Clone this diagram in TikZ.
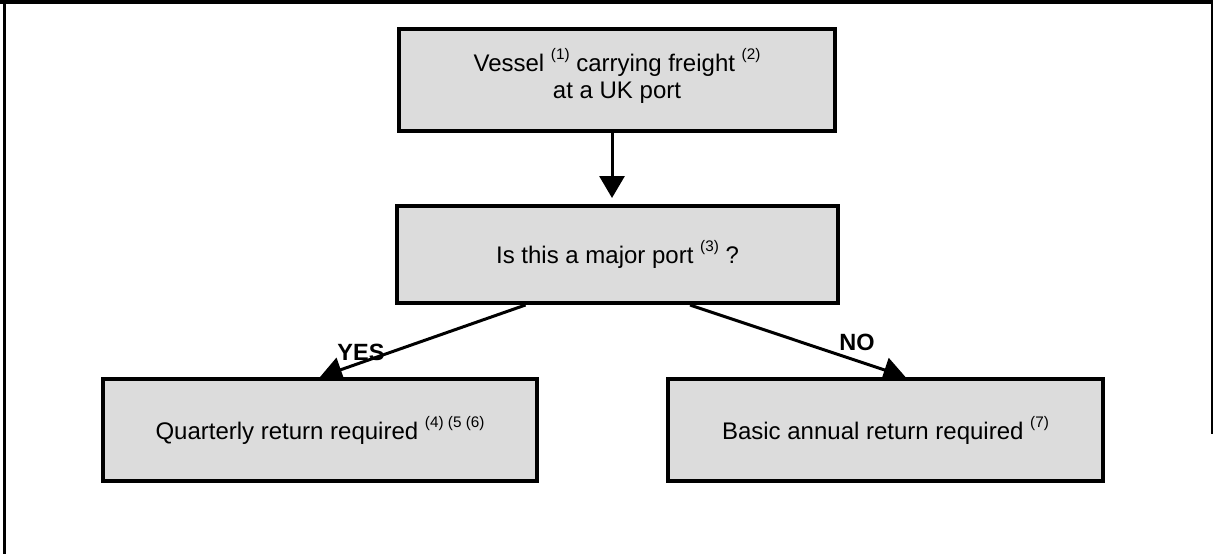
\documentclass[tikz,border=0pt]{standalone}
\usepackage{fontspec}
\setmainfont{Liberation Sans}
\usetikzlibrary{arrows.meta}
\definecolor{boxgray}{RGB}{220,220,220}
\pgfdeclarelayer{bg}
\pgfsetlayers{bg,main}
% raised footnote reference such as (1)
\newcommand\fnref[1]{\raisebox{12pt}{\fontsize{15.3}{15.3}\selectfont #1}}
\begin{document}
\begin{tikzpicture}[x=1pt,y=-1pt,
  box/.style={draw=black, line width=4pt, fill=boxgray, rectangle, inner sep=0pt,
    align=center, font=\fontsize{24}{27}\selectfont},
  link/.style={line width=3pt, -{Triangle[length=22pt,width=25pt]}},
  answer/.style={font=\fontsize{23.5}{27}\selectfont\bfseries, inner sep=0pt, anchor=base}]
\useasboundingbox (0,0) rectangle (1213,554);

% frame
\draw[line width=3.8pt] (0,1.9) -- (1213,1.9);
\draw[line width=2.7pt] (4.7,0) -- (4.7,554);
\draw[line width=2pt] (1212,0) -- (1212,434);

% boxes
\node[box, minimum width=436pt, minimum height=102pt, text depth=13pt] (start) at (617,80)
  {Vessel \fnref{(1)} carrying freight \fnref{(2)}\\at a UK port};
\node[box, minimum width=441pt, minimum height=97pt] (major) at (617.5,254.5)
  {Is this a major port \fnref{(3)} ?};
\node[box, minimum width=434pt, minimum height=102pt] (quarterly) at (320,430)
  {Quarterly return required \fnref{(4) (5 (6)}};
\node[box, minimum width=435pt, minimum height=102pt] (annual) at (885.5,430)
  {Basic annual return required \fnref{(7)}};

% connectors, kept under the boxes
\begin{pgfonlayer}{bg}
\draw[link] ([xshift=-5pt]start.south) -- ([xshift=-5.5pt,yshift=6pt]major.north);
\draw[link] ([xshift=-92pt]major.south) -- (quarterly.north);
\draw[link] ([xshift=72.5pt]major.south) -- ([xshift=20pt]annual.north);
\end{pgfonlayer}

% answers
\node[answer] (yes) at (361,360) {YES};
\node[answer] (no) at (857,350) {NO};
\end{tikzpicture}
\end{document}
